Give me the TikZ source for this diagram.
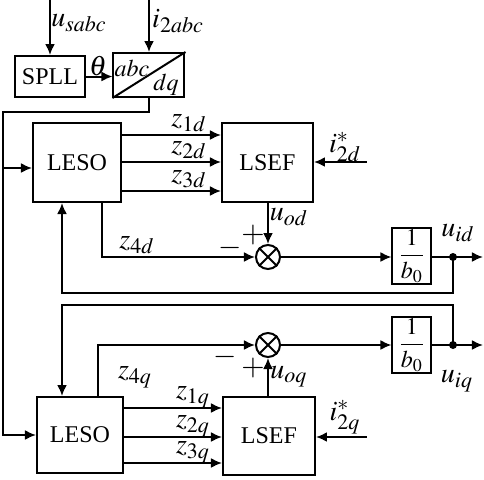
\documentclass[tikz,border=0pt]{standalone}
\usepackage{mathptmx}
\usepackage[no-math]{fontspec}
\setmainfont{Liberation Serif}
\DeclareMathSizes{14}{14}{11}{9}
\usetikzlibrary{arrows,arrows.meta,calc}
\tikzset{blk/.style={draw,inner sep=0pt,font=\fontsize{12}{14}\selectfont},
	lbl/.style={inner sep=0pt,font=\fontsize{14}{16}\selectfont},
	sml/.style={inner sep=0pt,font=\fontsize{12}{14}\selectfont},
	sgn/.style={inner sep=0pt,font=\fontsize{15}{17}\selectfont},
	summ/.style={draw,circle,inner sep=0pt,minimum size=12pt}}
\begin{document}
\begin{tikzpicture}[x=0.5pt,y=-0.5pt,line width=1pt,>={Latex[length=5.5pt,width=5pt]}]
			\useasboundingbox (0,0) rectangle (484,479);
			\node[blk,minimum width=35pt,minimum height=20.5pt] (spll) at (50,76.5) {SPLL};
			\node[blk,minimum width=35.5pt,minimum height=22pt] (park) at (149,75) {};
			\draw (park.south west) -- (park.north east);
			\node[sml] (abc) at (132,68) {$abc$};
			\node[sml] (dq) at (166,85) {$dq$};
			\node[blk,minimum width=44pt,minimum height=39.5pt] (lesod) at (77,162.5) {LESO};
			\node[blk,minimum width=45.5pt,minimum height=39.5pt] (lsefd) at (267.5,162.5) {LSEF};
			\node[blk,minimum width=43pt,minimum height=38pt] (lesoq) at (80,435) {LESO};
			\node[blk,minimum width=46pt,minimum height=39pt] (lsefq) at (269,436) {LSEF};
			\node[summ] (sumd) at (268,257) {};
			\node[summ] (sumq) at (268,345) {};
			\draw (sumd.north west) -- (sumd.south east) (sumd.north east) -- (sumd.south west);
			\draw (sumq.north west) -- (sumq.south east) (sumq.north east) -- (sumq.south west);
			\node[blk,minimum width=19.5pt,minimum height=28pt] (gaind) at (412,256) {$\displaystyle\frac{1}{b_0}$};
			\node[blk,minimum width=19.5pt,minimum height=28pt] (gainq) at (412,345) {$\displaystyle\frac{1}{b_0}$};
			\coordinate (usin) at (50,0);
			\coordinate (iin) at (149,0);
			\coordinate (lft) at (3,112);
			\coordinate (ind) at (3,168);
			\coordinate (tapd) at (453,257);
			\coordinate (tapq) at (453,345);
			\coordinate (outd) at (483,257);
			\coordinate (outq) at (483,345);
			\coordinate (fbd) at (62,293);
			\coordinate (fbq) at (62,305);
			\coordinate (refd) at (367,162);
			\coordinate (refq) at (367,437);
			\draw[->] (usin) -- (spll.north);
			\draw[->] (iin) -- (park.north);
			\draw[->] (spll.east) -- (park.west |- spll.east);
			\draw[->] (park.south) |- (lft) |- (lesoq.west);
			\draw[->] (ind) -- (lesod.west |- ind);
			\foreach \k/\yy in {1/135,2/162,3/191}
				\draw[->] (lesod.east |- 0,\yy) -- (lsefd.west |- 0,\yy) node[lbl] at (189,\yy-12) {$z_{\k d}$};
			\foreach \k/\yy in {1/408,2/437,3/463}
				\draw[->] (lesoq.east |- 0,\yy) -- (lsefq.west |- 0,\yy) node[lbl] at (193,\yy-11) {$z_{\k q}$};
			\draw[->] (refd) -- (lsefd.east |- refd);
			\draw[->] (refq) -- (lsefq.east |- refq);
			\draw[->] (lsefd.south -| sumd) -- (sumd.north);
			\draw[->] (lsefq.north -| sumq) -- (sumq.south);
			\draw[->] (lesod.south -| 102,0) |- (sumd.west);
			\draw[->] (lesoq.north -| 98,0) |- (sumq.west);
			\draw[->] (sumd.east) -- (gaind.west |- sumd);
			\draw[->] (sumq.east) -- (gainq.west |- sumq);
			\draw[->] (gaind.east |- tapd) -- (outd);
			\draw[->] (gainq.east |- tapq) -- (outq);
			\draw[->] (tapd) |- (fbd) -- (fbd |- lesod.south);
			\draw[->] (tapq) |- (fbq) -- (fbq |- lesoq.north);
			\fill (tapd) circle (2pt);
			\fill (tapq) circle (2pt);
			\node[lbl] (lu) at (79,23) {$u_{sabc}$};
			\node[lbl] (li) at (178,21) {$i_{2abc}$};
			\node[lbl] (lth) at (98,66) {$\theta$};
			\node[lbl] (lrd) at (345,147) {$i_{2d}^{*}$};
			\node[lbl] (lrq) at (345,417) {$i_{2q}^{*}$};
			\node[lbl] (luod) at (289,217) {$u_{od}$};
			\node[lbl] (luoq) at (289,377) {$u_{oq}$};
			\node[lbl] (lz4d) at (137,245) {$z_{4d}$};
			\node[lbl] (lz4q) at (135,377) {$z_{4q}$};
			\node[lbl] (luid) at (458,233) {$u_{id}$};
			\node[lbl] (luiq) at (457,381) {$u_{iq}$};
			\node[sgn] (pd) at (253,235) {$+$};
			\node[sgn] (md) at (230,248) {$-$};
			\node[sgn] (pq) at (253,368) {$+$};
			\node[sgn] (mq) at (225,357) {$-$};
		\end{tikzpicture}
\end{document}
